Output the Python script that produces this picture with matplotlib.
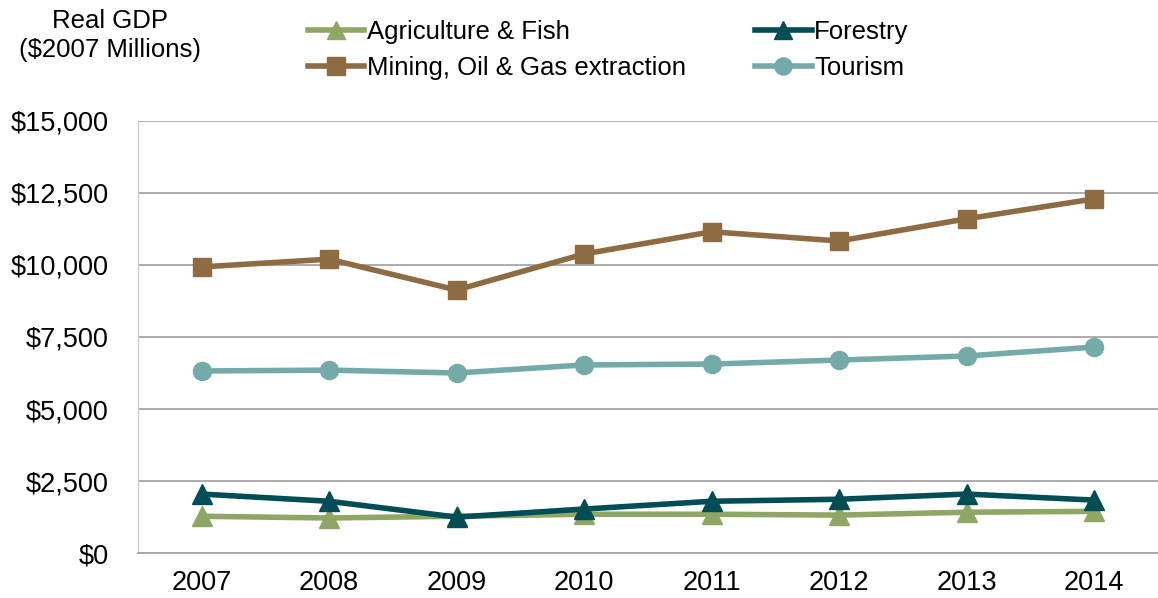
import matplotlib.pyplot as plt
import numpy as np

plt.rcParams['font.family'] = ['Liberation Sans', 'DejaVu Sans']

years = ['2007', '2008', '2009', '2010', '2011', '2012', '2013', '2014']
agriculture = [1280, 1220, 1280, 1350, 1350, 1320, 1420, 1450]
forestry = [2050, 1800, 1250, 1530, 1800, 1870, 2050, 1840]
mining = [9930, 10200, 9130, 10380, 11150, 10830, 11600, 12290]
tourism = [6320, 6350, 6250, 6530, 6560, 6700, 6840, 7150]

fig = plt.figure(figsize=(11.58, 5.98), dpi=100)
ax = fig.add_axes([0.119, 0.075, 0.881, 0.723])

x = np.arange(len(years))
lw = 4
h1, = ax.plot(x, agriculture, color='#8fa665', lw=lw, marker='^', ms=14, label='Agriculture & Fish')
h2, = ax.plot(x, forestry, color='#004d55', lw=lw, marker='^', ms=14, label='Forestry')
h3, = ax.plot(x, mining, color='#8f6b43', lw=lw, marker='s', ms=13, label='Mining, Oil & Gas extraction')
h4, = ax.plot(x, tourism, color='#74aaa8', lw=lw, marker='o', ms=13, label='Tourism')

ax.set_xlim(-0.5, 7.5)
ax.set_ylim(0, 15000)
ax.set_yticks(np.arange(0, 15001, 2500))
ax.set_yticklabels(['${:,.0f}'.format(v) for v in np.arange(0, 15001, 2500)])
ax.set_xticks(x)
ax.set_xticklabels(years)
ax.tick_params(axis='both', length=0, labelsize=19.5, colors='black')
ax.tick_params(axis='x', pad=12)
ax.tick_params(axis='y', pad=21)
ax.grid(axis='y', color='#a6a6a6', lw=1.3)
ax.set_axisbelow(True)
for s in ['top', 'right']:
    ax.spines[s].set_visible(False)
ax.spines['left'].set_color('#c8c8c8')
ax.spines['bottom'].set_color('#a6a6a6')
ax.spines['bottom'].set_linewidth(1.3)

fig.text(0.095, 0.941, 'Real GDP\n($2007 Millions)', ha='center', va='center', fontsize=18.5, linespacing=1.25)

fig.legend(handles=[h1, h3, h2, h4], ncol=2, loc='center left', bbox_to_anchor=(0.2545, 0.916),
           frameon=False, fontsize=18.5, handlelength=2.2, handletextpad=0.1, borderpad=0,
           columnspacing=2.7, labelspacing=0.45, markerscale=0.95)

fig.savefig('out.png', dpi=100)
